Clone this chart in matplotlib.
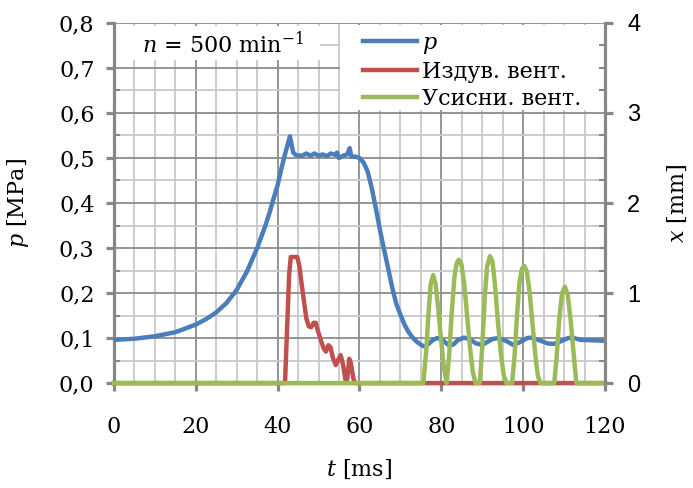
import matplotlib
matplotlib.use('Agg')
import matplotlib.pyplot as plt
from matplotlib.patches import Rectangle
from matplotlib.ticker import MultipleLocator, FuncFormatter

plt.rcParams['font.family'] = 'DejaVu Serif'
plt.rcParams['mathtext.fontset'] = 'dejavuserif'

# притисок во цилиндарот [MPa]
t_p = [0, 5, 10, 15, 20, 22.5, 25, 27.5, 30, 32.5, 35, 36, 37, 38, 39, 40, 41,
       42, 43, 43.4, 43.8, 44.5,
       46, 47, 48, 49, 50, 51, 52, 53, 54, 54.5, 55, 56, 57, 57.6, 58, 59, 60,
       61, 62, 63, 64, 65, 66, 67, 68, 69, 70, 71, 72, 73, 74, 75, 76, 77, 78,
       79, 80, 81, 82, 83, 84, 85.5, 87, 88.5, 90, 91, 92.5, 94, 96, 97.5, 99,
       101, 102, 104, 106, 107.5, 109, 111, 112, 114, 117, 120]
p = [0.096, 0.0985, 0.104, 0.113, 0.130, 0.142, 0.157, 0.178, 0.207, 0.248,
     0.30, 0.325, 0.35, 0.378, 0.41, 0.44, 0.48,
     0.515, 0.548, 0.53, 0.512, 0.506,
     0.505, 0.51, 0.505, 0.51, 0.505, 0.508, 0.504, 0.51, 0.507, 0.512, 0.50,
     0.505, 0.508, 0.522, 0.503, 0.503, 0.50,
     0.49, 0.47, 0.433, 0.388, 0.34, 0.297, 0.255, 0.212, 0.176, 0.152, 0.13,
     0.113, 0.101, 0.092, 0.085, 0.081, 0.088, 0.096,
     0.10, 0.098, 0.09, 0.083, 0.086, 0.095, 0.101, 0.097, 0.088, 0.085, 0.09,
     0.098, 0.100, 0.093, 0.085, 0.09,
     0.10, 0.101, 0.095, 0.088, 0.087, 0.092, 0.10, 0.101, 0.096, 0.095, 0.094]

# подигање на издувниот вентил [mm]
t_izd = [0, 41.8, 42.3, 42.8, 43.2, 44.8, 45.3, 45.8, 46.4, 47.0, 47.6, 48.2,
         48.8, 49.3, 49.9, 50.6, 51.3, 51.8, 52.4, 52.9, 53.5, 54.2, 54.8,
         55.4, 56.0, 56.6, 57.0, 57.5, 57.9, 58.5, 58.9, 120]
x_izd = [0, 0, 0.6, 1.2, 1.4, 1.4, 1.3, 1.12, 0.92, 0.72, 0.63, 0.62,
         0.67, 0.67, 0.57, 0.47, 0.38, 0.35, 0.42, 0.40, 0.28, 0.2, 0.26,
         0.31, 0.2, 0.03, 0.04, 0.27, 0.22, 0.05, 0, 0]

# подигање на усисниот вентил [mm]
t_usi = [0, 75.6, 76.3, 76.9, 77.4, 78.0, 78.6, 79.2, 79.9, 80.6, 81.3,
         81.9, 82.5, 83.2, 83.8, 84.3, 84.9, 85.6, 86.3, 87.0, 87.7, 88.4,
         89.4, 90.0, 90.6, 91.2, 91.9, 92.5, 93.1, 93.8, 94.5, 95.2, 95.9,
         97.3, 97.9, 98.5, 99.1, 99.7, 100.3, 100.9, 101.6, 102.3, 103.0, 103.6, 104.2,
         107.6, 108.2, 108.8, 109.5, 110.2, 110.9, 111.6, 112.3, 113.0, 120]
x_usi = [0, 0, 0.35, 0.8, 1.1, 1.20, 1.10, 0.85, 0.5, 0.18, 0,
         0.3, 0.75, 1.18, 1.34, 1.37, 1.32, 1.1, 0.75, 0.4, 0.12, 0,
         0, 0.4, 0.95, 1.3, 1.41, 1.35, 1.1, 0.7, 0.35, 0.1, 0,
         0, 0.3, 0.75, 1.12, 1.27, 1.30, 1.24, 1.0, 0.65, 0.3, 0.08, 0,
         0, 0.3, 0.7, 1.0, 1.07, 0.98, 0.7, 0.35, 0, 0]

c_p = '#4a7ebb'
c_izd = '#c0504d'
c_usi = '#9bbb59'
siva = '#878787'

fig = plt.figure(figsize=(6.93, 4.88), dpi=100)
ax = fig.add_axes([0.1645, 0.215, 0.7085, 0.738])
ax2 = ax.twinx()

ax.set_xlim(0, 120)
ax.set_ylim(0, 0.8)
ax2.set_ylim(0, 4)

ax.xaxis.set_major_locator(MultipleLocator(20))
ax.xaxis.set_minor_locator(MultipleLocator(5))
ax.yaxis.set_major_locator(MultipleLocator(0.1))
ax.yaxis.set_minor_locator(MultipleLocator(0.05))
ax2.yaxis.set_major_locator(MultipleLocator(1))
ax2.yaxis.set_minor_locator(MultipleLocator(0.25))

ax.set_axisbelow(True)
ax.grid(which='major', color='#8c8c8c', lw=1.3)
ax.grid(which='minor', color='#c8c8c8', lw=1.3)

ax.yaxis.set_major_formatter(FuncFormatter(lambda v, _: f'{v:.1f}'.replace('.', ',')))

for a in (ax, ax2):
    for s in a.spines.values():
        s.set_visible(False)
for a, side in ((ax, 'left'), (ax, 'bottom'), (ax2, 'right')):
    a.spines[side].set_visible(True)
    a.spines[side].set_color(siva)
    a.spines[side].set_linewidth(2.3)

ax.tick_params(which='major', direction='out', length=6, width=2.3, color=siva,
               labelsize=16)
ax.tick_params(axis='x', which='major', pad=18)
ax.tick_params(axis='y', which='major', pad=8)
ax.tick_params(axis='y', which='minor', direction='in', length=4, width=1.5, color=siva)
ax.tick_params(axis='x', which='minor', length=0)
ax2.tick_params(which='major', direction='out', length=6, width=2.3, color=siva,
                labelsize=17, pad=10)
ax2.tick_params(which='minor', direction='in', length=4, width=1.5, color=siva)
for lab in ax2.get_yticklabels():
    lab.set_family('Liberation Sans')

# бели подлоги за натписот и легендата
ax.add_patch(Rectangle((0.003, 0.897), 0.417, 0.095, transform=ax.transAxes,
                       facecolor='white', edgecolor='none', zorder=1))
ax.add_patch(Rectangle((0.46, 0.758), 0.535, 0.235, transform=ax.transAxes,
                       facecolor='white', edgecolor='none', zorder=1))

l1, = ax.plot(t_p, p, color=c_p, lw=3.2, zorder=3, label='$p$')
l2, = ax2.plot(t_izd, x_izd, color=c_izd, lw=3.2, clip_on=False, label='Издув. вент.')
l3, = ax2.plot(t_usi, x_usi, color=c_usi, lw=3.2, clip_on=False, label='Усисни. вент.')

ax.text(0.222, 0.94, r'$n$ = 500 min$^{\mathregular{-1}}$', transform=ax.transAxes,
        ha='center', va='center', fontsize=16, zorder=4)

ax2.legend(handles=[l1, l2, l3], loc='upper left', bbox_to_anchor=(0.49, 1.0),
           frameon=False, fontsize=16, handlelength=2.4, handletextpad=0.25,
           labelspacing=0.22, borderaxespad=0)

ax.set_xlabel('$t$ [ms]', fontsize=16, labelpad=14)
ax.set_ylabel('$p$ [MPa]', fontsize=16, labelpad=20)
ax2.set_ylabel('$x$ [mm]', fontsize=16, labelpad=18)

fig.savefig('out.png', dpi=100)
